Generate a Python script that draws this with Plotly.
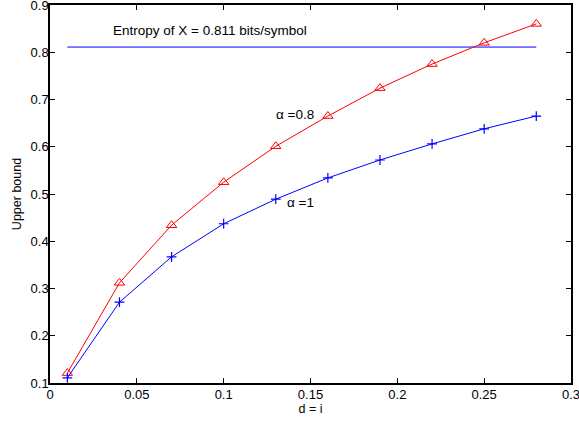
import plotly.graph_objects as go

# distortion values d = i
d_vals = [0.01, 0.04, 0.07, 0.10, 0.13, 0.16, 0.19, 0.22, 0.25, 0.28]
# upper bound for alpha = 0.8 (red) and alpha = 1 (blue)
bound_a08 = [0.121, 0.312, 0.434, 0.525, 0.601, 0.665, 0.724, 0.775, 0.820, 0.860]
bound_a1 = [0.111, 0.271, 0.367, 0.437, 0.489, 0.534, 0.572, 0.606, 0.638, 0.665]
# entropy reference line
entropy_x = [0.01, 0.28]
entropy_y = [0.811, 0.811]

x_ticks = [0, 0.05, 0.1, 0.15, 0.2, 0.25, 0.3]
x_ticktext = ["0", "0.05", "0.1", "0.15", "0.2", "0.25", "0.3"]
y_ticks = [0.1, 0.2, 0.3, 0.4, 0.5, 0.6, 0.7, 0.8, 0.9]
y_ticktext = ["0.1", "0.2", "0.3", "0.4", "0.5", "0.6", "0.7", "0.8", "0.9"]

font = "Liberation Sans, Arial, Helvetica, sans-serif"

fig = go.Figure()
fig.add_trace(go.Scatter(
    x=entropy_x, y=entropy_y, mode="lines",
    line=dict(color="#0000ff", width=1), showlegend=False))
fig.add_trace(go.Scatter(
    x=d_vals, y=bound_a08, mode="lines+markers",
    line=dict(color="#ff0000", width=1),
    marker=dict(symbol="triangle-up-open", size=9, color="#ff0000",
                line=dict(width=1)),
    showlegend=False))
fig.add_trace(go.Scatter(
    x=d_vals, y=bound_a1, mode="lines+markers",
    line=dict(color="#0000ff", width=1),
    marker=dict(symbol="cross-thin-open", size=7, color="#0000ff",
                line=dict(width=1.2, color="#0000ff")),
    showlegend=False))

ann_font = dict(size=13.5, color="black", family=font)
fig.add_annotation(x=0.092, y=0.847, text="Entropy of X = 0.811 bits/symbol",
                   showarrow=False, font=ann_font)
fig.add_annotation(x=0.141, y=0.669, text="α =0.8",
                   showarrow=False, font=ann_font)
fig.add_annotation(x=0.144, y=0.483, text="α =1",
                   showarrow=False, font=ann_font)

axis_common = dict(
    showgrid=False, zeroline=False, showline=True, linecolor="black",
    linewidth=1.5, mirror="ticks", ticks="inside", ticklen=5,
    tickcolor="black", tickwidth=1, automargin=False,
    ticklabeloverflow="allow",
    tickfont=dict(size=13, color="black", family=font))

fig.update_xaxes(range=[0, 0.3], tickvals=x_ticks, ticktext=x_ticktext,
                 ticklabelstandoff=-1,
                 title=dict(text="d = i", standoff=0,
                            font=dict(size=12.5, color="black", family=font)),
                 **axis_common)
fig.update_yaxes(range=[0.1, 0.9], tickvals=y_ticks, ticktext=y_ticktext,
                 ticklabelstandoff=-3,
                 title=dict(text="Upper bound", standoff=6,
                            font=dict(size=12.5, color="black", family=font)),
                 **axis_common)

fig.update_layout(
    width=579, height=422,
    margin=dict(l=50, r=8, t=5, b=39),
    paper_bgcolor="white", plot_bgcolor="white",
    font=dict(family=font, color="black"))

fig.write_html("out.html", config={"displayModeBar": False},
               post_script="document.body.style.margin='0';")
